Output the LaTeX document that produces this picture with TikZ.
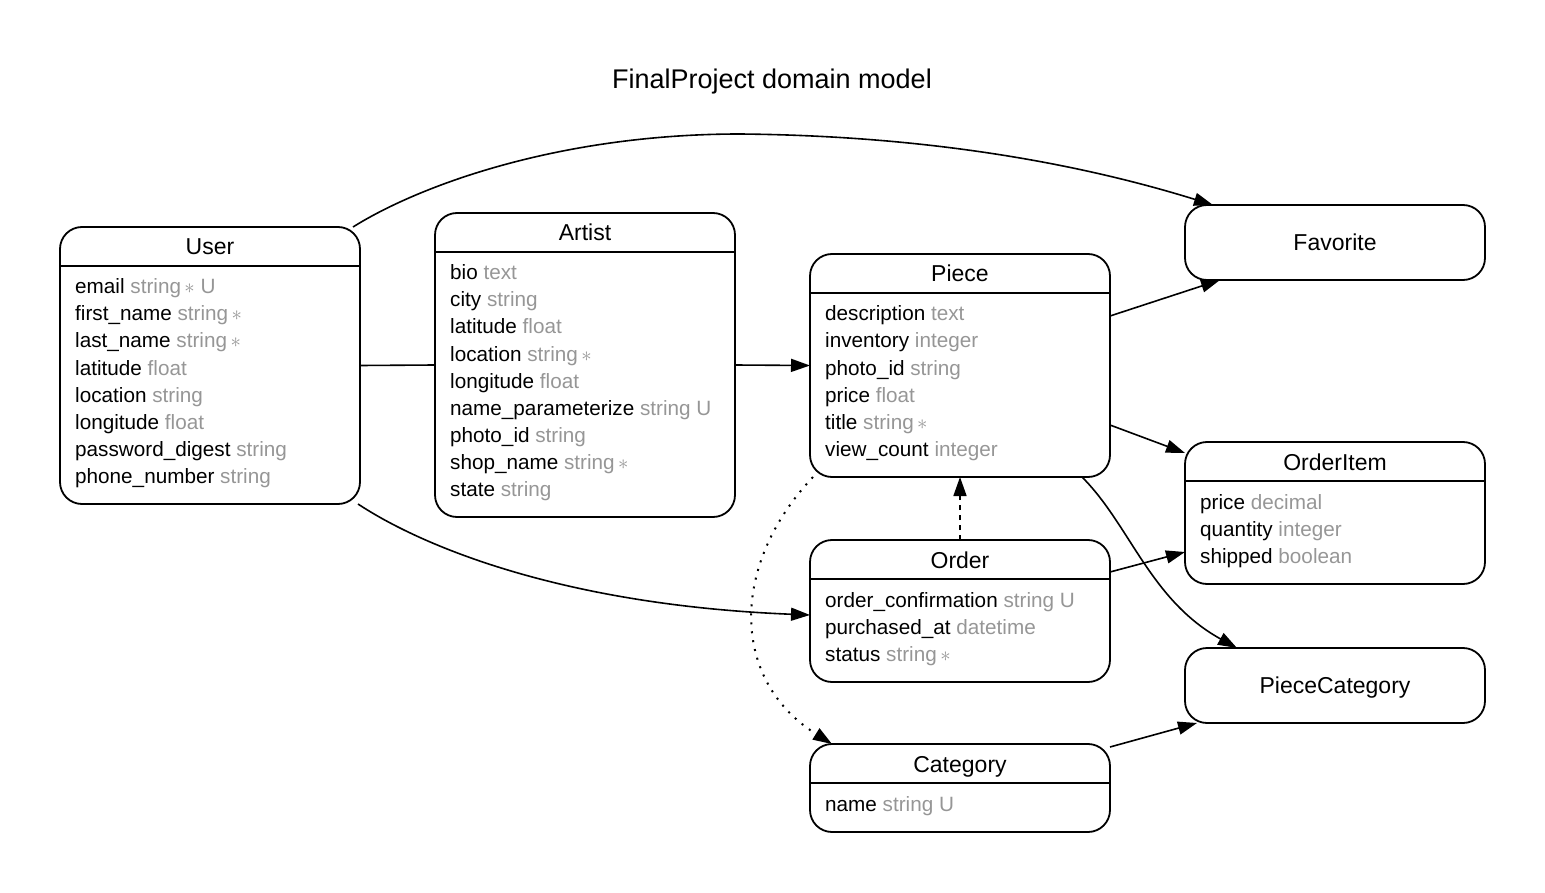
\documentclass[tikz,border=0pt]{standalone}
\usepackage{fontspec}
\setmainfont{Liberation Sans}
\usetikzlibrary{arrows.meta}
\definecolor{attrgray}{RGB}{150,150,150}
\newcommand\reqmark{\,{\fontsize{20}{20}\selectfont$\ast$}}

\begin{document}
\begin{tikzpicture}[x=1pt,y=-1pt,
  entity/.style={draw,line width=1.8pt,rounded corners=22pt,minimum width=300pt,inner sep=0pt,outer sep=0pt,anchor=north west},
  entitytitle/.style={anchor=base,inner sep=0pt,font=\fontsize{23}{26}\selectfont},
  field/.style={anchor=base west,inner sep=0pt,font=\fontsize{20.7}{24}\selectfont},
  rel/.style={line width=1.6pt,-{Triangle[length=19pt,width=13pt]}}]
\useasboundingbox (0,0) rectangle (1545,893);
\node[anchor=base,font=\fontsize{27}{32}\selectfont] (title) at (772,89) {FinalProject domain model};

% entities with attributes
\node[entity,minimum height=277pt] (user) at (60,227) {};
\node[entitytitle] (user-t) at ([yshift=-28pt]user.north) {User};
\draw[line width=1.8pt] ([yshift=-39pt]user.north west) -- ([yshift=-39pt]user.north east);
\foreach \nm/\ty [count=\i] in {email/string\reqmark\ U, first\_name/string\reqmark, last\_name/string\reqmark,
    latitude/float, location/string, longitude/float, password\_digest/string, phone\_number/string}
  \node[field] (user-\i) at ([xshift=15pt,yshift=-40pt-27pt*\i]user.north west) {\nm\ \textcolor{attrgray}{\ty}};

\node[entity,minimum height=304pt] (artist) at (435,213) {};
\node[entitytitle] (artist-t) at ([yshift=-28pt]artist.north) {Artist};
\draw[line width=1.8pt] ([yshift=-39pt]artist.north west) -- ([yshift=-39pt]artist.north east);
\foreach \nm/\ty [count=\i] in {bio/text, city/string, latitude/float, location/string\reqmark, longitude/float,
    name\_parameterize/string U, photo\_id/string, shop\_name/string\reqmark, state/string}
  \node[field] (artist-\i) at ([xshift=15pt,yshift=-40pt-27pt*\i]artist.north west) {\nm\ \textcolor{attrgray}{\ty}};

\node[entity,minimum height=223pt] (piece) at (810,254) {};
\node[entitytitle] (piece-t) at ([yshift=-28pt]piece.north) {Piece};
\draw[line width=1.8pt] ([yshift=-39pt]piece.north west) -- ([yshift=-39pt]piece.north east);
\foreach \nm/\ty [count=\i] in {description/text, inventory/integer, photo\_id/string, price/float,
    title/string\reqmark, view\_count/integer}
  \node[field] (piece-\i) at ([xshift=15pt,yshift=-40pt-27pt*\i]piece.north west) {\nm\ \textcolor{attrgray}{\ty}};

\node[entity,minimum height=142pt] (order) at (810,540) {};
\node[entitytitle] (order-t) at ([yshift=-28pt]order.north) {Order};
\draw[line width=1.8pt] ([yshift=-39pt]order.north west) -- ([yshift=-39pt]order.north east);
\foreach \nm/\ty [count=\i] in {order\_confirmation/string U, purchased\_at/datetime, status/string\reqmark}
  \node[field] (order-\i) at ([xshift=15pt,yshift=-40pt-27pt*\i]order.north west) {\nm\ \textcolor{attrgray}{\ty}};

\node[entity,minimum height=88pt] (category) at (810,744) {};
\node[entitytitle] (category-t) at ([yshift=-28pt]category.north) {Category};
\draw[line width=1.8pt] ([yshift=-39pt]category.north west) -- ([yshift=-39pt]category.north east);
\node[field] (category-1) at ([xshift=15pt,yshift=-67pt]category.north west) {name \textcolor{attrgray}{string U}};

\node[entity,minimum height=142pt] (orderitem) at (1185,442) {};
\node[entitytitle] (orderitem-t) at ([yshift=-28pt]orderitem.north) {OrderItem};
\draw[line width=1.8pt] ([yshift=-39pt]orderitem.north west) -- ([yshift=-39pt]orderitem.north east);
\foreach \nm/\ty [count=\i] in {price/decimal, quantity/integer, shipped/boolean}
  \node[field] (orderitem-\i) at ([xshift=15pt,yshift=-40pt-27pt*\i]orderitem.north west) {\nm\ \textcolor{attrgray}{\ty}};

% entities without attributes
\node[entity,minimum height=75pt] (favorite) at (1185,205) {};
\node[entitytitle] (favorite-t) at ([yshift=-8pt]favorite.center) {Favorite};
\node[entity,minimum height=75pt] (piececategory) at (1185,648) {};
\node[entitytitle] (piececategory-t) at ([yshift=-8pt]piececategory.center) {PieceCategory};

% relations
\draw[line width=1.6pt] (user.east) -- (artist.west);
\draw[rel] (artist.east) -- (piece.west);
\draw[rel] ([xshift=-7pt]user.north east) .. controls (420,185) and (560,134) .. (740,134)
  .. controls (950,136) and (1100,170) .. ([xshift=28pt]favorite.north west);
\draw[rel] ([xshift=-2pt]user.south east) .. controls (420,545) and (560,605) .. ([yshift=-4pt]order.west);
\draw[rel] ([yshift=-62pt]piece.north east) -- ([xshift=35pt]favorite.south west);
\draw[rel] ([yshift=52pt]piece.south east) -- ([yshift=-11pt]orderitem.north west);
\draw[rel] ([xshift=-28pt]piece.south east) .. controls (1130,525) and (1150,600) .. ([xshift=52pt]piececategory.north west);
\draw[rel,dash pattern=on 5pt off 5pt] (order.north) -- (piece.south);
\draw[rel,line width=2pt,dash pattern=on 2pt off 7pt] ([xshift=3pt]piece.south west) .. controls (730,565) and (730,680) .. ([xshift=22pt]category.north west);
\draw[rel] ([yshift=-32pt]order.north east) -- ([yshift=32pt]orderitem.south west);
\draw[rel] ([yshift=-3pt]category.north east) -- ([xshift=12pt]piececategory.south west);
\end{tikzpicture}
\end{document}
